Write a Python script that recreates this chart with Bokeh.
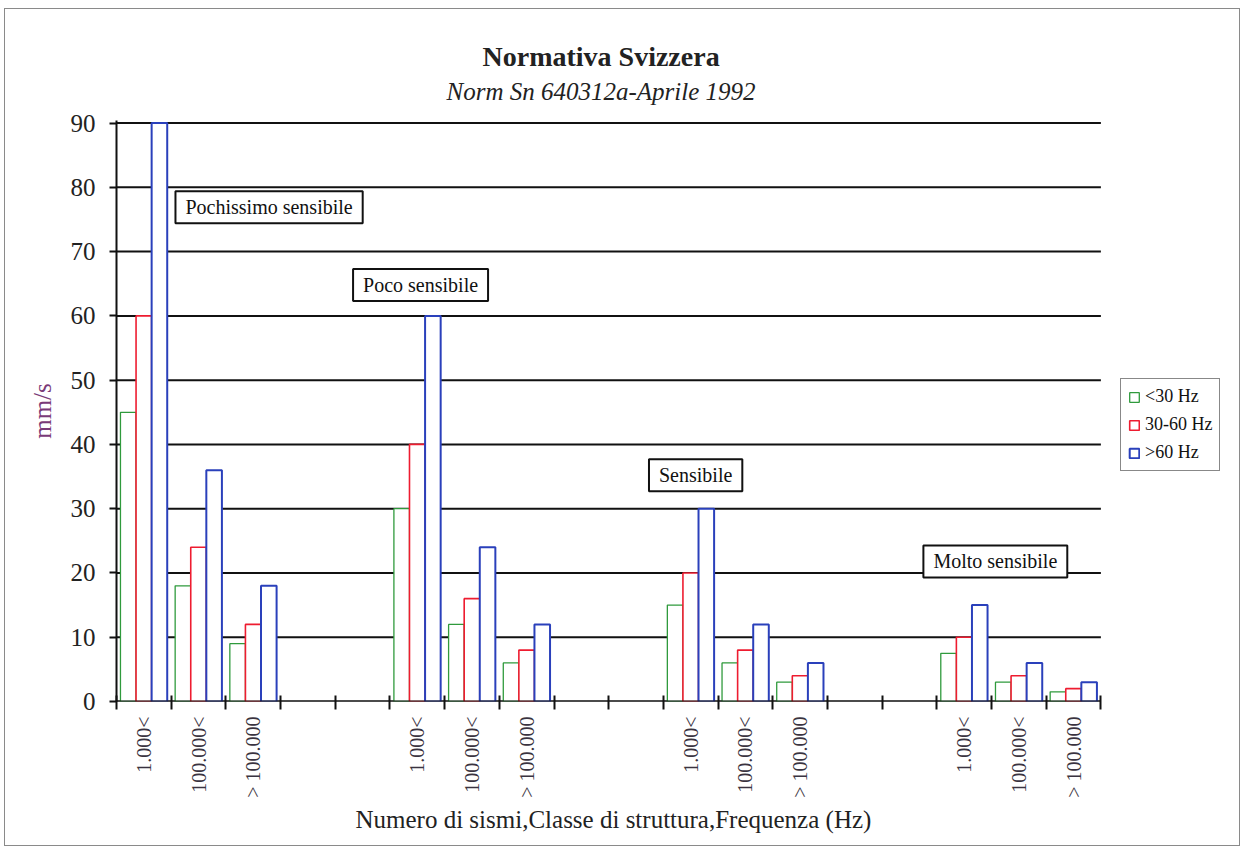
import math
from bokeh.plotting import figure
from bokeh.models import (ColumnDataSource, FixedTicker, Range1d, Label, Legend,
                          LegendItem, Title)
from bokeh.embed import file_html
from bokeh.resources import INLINE

# ---------------- data ----------------
groups = ["Pochissimo sensibile", "Poco sensibile", "Sensibile", "Molto sensibile"]
classes = ["1.000<", "100.000<", "> 100.000"]
series_names = ["<30 Hz", "30-60 Hz", ">60 Hz"]
lt30 = [45, 18, 9, 30, 12, 6, 15, 6, 3, 7.5, 3, 1.5]
hz30_60 = [60, 24, 12, 40, 16, 8, 20, 8, 4, 10, 4, 2]
gt60 = [90, 36, 18, 60, 24, 12, 30, 12, 6, 15, 6, 3]
y_ticks = [0, 10, 20, 30, 40, 50, 60, 70, 80, 90]

title_text = "Normativa Svizzera"
subtitle_text = "Norm Sn 640312a-Aprile 1992"
x_title = "Numero di sismi,Classe di struttura,Frequenza (Hz)"
y_title = "mm/s"

# ---------------- layout helpers ----------------
FONT = "Liberation Serif"
GAP = 2            # empty category slots between groups
EXTRA = 2.37       # room (in slot units) at the right of the axis for the legend
Y_TOP = 90.4       # a little headroom so the top gridline is not clipped
span = len(classes) + GAP
n_slots = len(groups) * span - GAP
centers = [g * span + j + 0.5 for g in range(len(groups)) for j in range(len(classes))]
label_map = {c: classes[i % len(classes)] for i, c in enumerate(centers)}

bw = 0.285
offsets = [-bw, 0.0, bw]
colors = ["#2f9a3c", "#ee1c30", "#2a40bb"]
widths = [1.3, 1.6, 2.0]
INK = "#111111"

# annotation box centres (data coords)
annot_pos = [(2.79, 76.9), (5.56, 64.8), (10.59, 35.2), (16.07, 21.8)]

p = figure(width=1236, height=838,
           x_range=Range1d(0, n_slots + EXTRA), y_range=Range1d(0, Y_TOP),
           output_backend="svg", toolbar_location=None,
           min_border_left=111, min_border_right=11,
           min_border_top=111, min_border_bottom=146,
           outline_line_color=None, background_fill_color="white",
           border_fill_color="white")
p.styles = {"border": "1px solid #8a8a8a", "margin-left": "4px", "margin-top": "8px"}

# titles: blank spacer nearest the frame, then subtitle, then main title
p.add_layout(Title(text=" ", text_font_size="1px", standoff=9), "above")
p.add_layout(Title(text=subtitle_text, align="left", offset=330, text_font=FONT,
                   text_font_style="italic", text_font_size="25px",
                   text_line_height=0.75,
                   text_color="#222222", standoff=8), "above")
p.add_layout(Title(text=title_text, align="left", offset=366, text_font=FONT,
                   text_font_style="bold", text_font_size="28px",
                   text_color="#222222", standoff=0), "above")
p.add_layout(Title(text=x_title, align="left", offset=239, text_font=FONT,
                   text_font_style="normal", text_font_size="25px",
                   text_color="#222222", standoff=6), "below")

# gridlines (only across the category area)
p.segment(x0=0, x1=n_slots, y0=y_ticks, y1=y_ticks, line_color=INK, line_width=2)

# x axis
xa = p.xaxis[0]
xa.ticker = FixedTicker(ticks=centers, minor_ticks=list(range(n_slots + 1)))
xa.major_label_overrides = label_map
xa.major_tick_line_color = None
xa.major_tick_in = 0
xa.major_tick_out = 8
xa.minor_tick_in = 6
xa.minor_tick_out = 8
xa.minor_tick_line_color = INK
xa.minor_tick_line_width = 2
xa.major_label_orientation = math.pi / 2
xa.major_label_standoff = 7
xa.major_label_text_font = FONT
xa.major_label_text_font_size = "20px"
xa.major_label_text_color = "#3a3340"
xa.axis_line_color = None

# y axis
ya = p.yaxis[0]
ya.ticker = FixedTicker(ticks=y_ticks, minor_ticks=[])
ya.major_tick_in = 0
ya.major_tick_out = 7
ya.major_tick_line_color = INK
ya.major_tick_line_width = 2
ya.minor_tick_line_color = None
ya.major_label_standoff = 14
ya.major_label_text_font = FONT
ya.major_label_text_font_size = "25px"
ya.major_label_text_color = "#222222"
ya.axis_line_color = INK
ya.axis_line_width = 2
ya.axis_label = y_title
ya.axis_label_text_font = FONT
ya.axis_label_text_font_style = "normal"
ya.axis_label_text_font_size = "25px"
ya.axis_label_text_color = "#7a3a78"
ya.axis_label_standoff = 12

p.xgrid.visible = False
p.ygrid.visible = False

# bars
renderers = []
for k, vals in enumerate([lt30, hz30_60, gt60]):
    src = ColumnDataSource(dict(x=[c + offsets[k] for c in centers], top=vals))
    r = p.vbar(x="x", top="top", bottom=0, width=bw, source=src,
               fill_color="white", line_color=colors[k], line_width=widths[k])
    renderers.append(r)

# x axis line (category area only), drawn over the bar bottoms
p.segment(x0=[0], x1=[n_slots], y0=[0], y1=[0], line_color=INK, line_width=2)

# group annotations
for name, (ax, ay) in zip(groups, annot_pos):
    p.add_layout(Label(x=ax, y=ay, text=name, text_align="center",
                       text_baseline="middle", text_font=FONT,
                       text_font_size="20px", text_color=INK,
                       border_line_color=INK, border_line_width=2,
                       background_fill_color="white", padding=(10, 5)))

legend = Legend(items=[LegendItem(label=n, renderers=[r])
                       for n, r in zip(series_names, renderers)],
                location=(1004, 230), orientation="vertical",
                label_text_font=FONT, label_text_font_size="18px",
                label_text_color=INK,
                glyph_width=12, glyph_height=12, label_standoff=5,
                label_height=21, spacing=7, padding=7, margin=0,
                border_line_color=INK, border_line_width=1.5,
                background_fill_color="white", background_fill_alpha=1.0)
p.add_layout(legend)

open("out.html", "w").write(file_html(p, INLINE))
